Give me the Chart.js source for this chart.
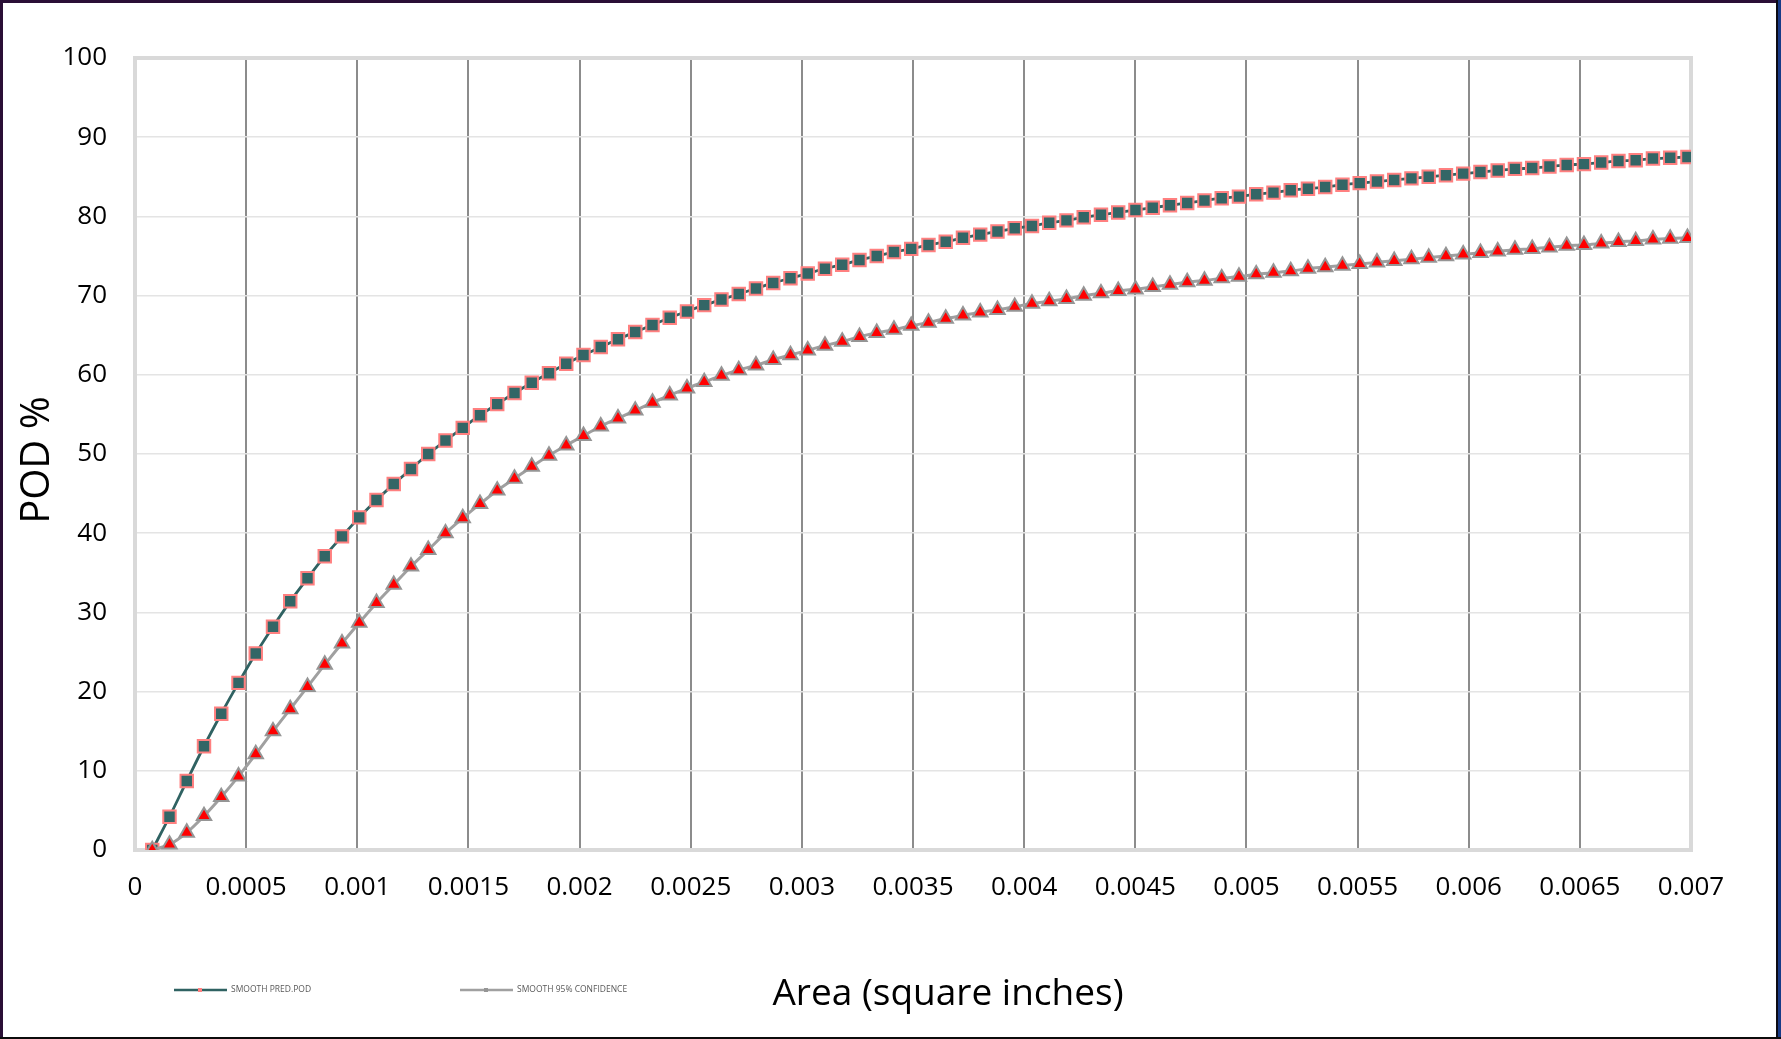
<!DOCTYPE html>
<html>
<head>
<meta charset="utf-8">
<title>POD curve</title>
<script src="https://cdn.jsdelivr.net/npm/chart.js@4.4.1/dist/chart.umd.min.js"></script>
<style>
  html, body { margin: 0; padding: 0; background: #fff; overflow: hidden; }
  #wrap { position: relative; width: 1781px; height: 1039px; }
  #podChart { position: absolute; left: 0; top: 0; }
  .edge { position: absolute; pointer-events: none; }
</style>
</head>
<body>
<div id="wrap">
  <canvas id="podChart" width="1781" height="1039"></canvas>
  <div class="edge" style="left:0;top:0;width:1781px;height:3px;background:#2a0f36;"></div>
  <div class="edge" style="left:0;top:0;width:3px;height:1039px;background:#2a0f36;"></div>
  <div class="edge" style="left:1776px;top:0;width:2px;height:1039px;background:#0b0b14;"></div>
  <div class="edge" style="left:1778px;top:0;width:3px;height:1039px;background:#183a86;"></div>
  <div class="edge" style="left:0;top:1037px;width:1781px;height:2px;background:#0b0b0b;"></div>
</div>
<script>
// Area values (square inches)
const areaX = [
  0.0000776, 0.0001552, 0.0002328, 0.0003104, 0.000388, 0.0004656, 0.0005432, 0.0006208, 0.0006984, 0.000776,
  0.0008536, 0.0009312, 0.0010088, 0.0010864, 0.001164, 0.0012416, 0.0013192, 0.0013968, 0.0014744, 0.001552,
  0.0016296, 0.0017072, 0.0017848, 0.0018624, 0.00194, 0.0020176, 0.0020952, 0.0021728, 0.0022504, 0.002328,
  0.0024056, 0.0024832, 0.0025608, 0.0026384, 0.002716, 0.0027936, 0.0028712, 0.0029488, 0.0030264, 0.003104,
  0.0031816, 0.0032592, 0.0033368, 0.0034144, 0.003492, 0.0035696, 0.0036472, 0.0037248, 0.0038024, 0.00388,
  0.0039576, 0.0040352, 0.0041128, 0.0041904, 0.004268, 0.0043456, 0.0044232, 0.0045008, 0.0045784, 0.004656,
  0.0047336, 0.0048112, 0.0048888, 0.0049664, 0.005044, 0.0051216, 0.0051992, 0.0052768, 0.0053544, 0.005432,
  0.0055096, 0.0055872, 0.0056648, 0.0057424, 0.00582, 0.0058976, 0.0059752, 0.0060528, 0.0061304, 0.006208,
  0.0062856, 0.0063632, 0.0064408, 0.0065184, 0.006596, 0.0066736, 0.0067512, 0.0068288, 0.0069064, 0.006984
];

// SMOOTH PRED.POD (%)
const predPod = [
  0.0, 4.2, 8.7, 13.1, 17.2, 21.1, 24.8, 28.2, 31.4, 34.3,
  37.1, 39.6, 42.0, 44.2, 46.2, 48.1, 50.0, 51.7, 53.3, 54.9,
  56.3, 57.7, 59.0, 60.2, 61.4, 62.5, 63.5, 64.5, 65.4, 66.3,
  67.2, 68.0, 68.8, 69.5, 70.2, 70.9, 71.6, 72.2, 72.8, 73.4,
  73.9, 74.5, 75.0, 75.5, 75.9, 76.4, 76.8, 77.3, 77.7, 78.1,
  78.5, 78.8, 79.2, 79.5, 79.9, 80.2, 80.5, 80.8, 81.1, 81.4,
  81.7, 82.0, 82.3, 82.5, 82.8, 83.0, 83.3, 83.5, 83.7, 84.0,
  84.2, 84.4, 84.6, 84.8, 85.0, 85.2, 85.4, 85.6, 85.8, 86.0,
  86.1, 86.3, 86.5, 86.6, 86.8, 87.0, 87.1, 87.3, 87.4, 87.5
];

// SMOOTH 95% CONFIDENCE (%)
const conf95 = [
  0.0, 0.7, 2.2, 4.3, 6.7, 9.3, 12.1, 15.0, 17.8, 20.6,
  23.4, 26.1, 28.7, 31.2, 33.5, 35.8, 37.9, 40.0, 41.9, 43.7,
  45.4, 46.9, 48.4, 49.8, 51.1, 52.3, 53.5, 54.5, 55.5, 56.5,
  57.4, 58.3, 59.1, 59.9, 60.6, 61.2, 61.9, 62.5, 63.1, 63.7,
  64.2, 64.8, 65.3, 65.7, 66.2, 66.6, 67.1, 67.5, 67.9, 68.2,
  68.6, 69.0, 69.3, 69.6, 70.0, 70.3, 70.6, 70.8, 71.1, 71.4,
  71.7, 71.9, 72.2, 72.4, 72.7, 72.9, 73.1, 73.4, 73.6, 73.8,
  74.0, 74.2, 74.4, 74.6, 74.8, 75.0, 75.2, 75.4, 75.6, 75.8,
  75.9, 76.1, 76.3, 76.4, 76.6, 76.8, 76.9, 77.1, 77.2, 77.3
];

const xTickLabels = ['0','0.0005','0.001','0.0015','0.002','0.0025','0.003','0.0035','0.004','0.0045','0.005','0.0055','0.006','0.0065','0.007'];
const seriesNames = ['SMOOTH PRED.POD', 'SMOOTH 95% CONFIDENCE'];
const xTitle = 'Area (square inches)';
const yTitle = 'POD %';

const FONT = "'Open Sans', 'Noto Sans', sans-serif";

// plot frame (light gray box round the plot area)
const plotFrame = {
  id: 'plotFrame',
  beforeDatasetsDraw(chart){
    const {ctx, chartArea:a} = chart;
    ctx.save();
    ctx.strokeStyle = '#d9d9d9';
    ctx.lineWidth = 4;
    ctx.strokeRect(a.left, a.top, a.right - a.left, a.bottom - a.top);
    ctx.restore();
  }
};

// legend, axis titles
const extraText = {
  id: 'extraText',
  afterDraw(chart){
    const ctx = chart.ctx;
    const ds = chart.data.datasets;
    const rowY = 990;
    const items = [{x:174, ds:ds[0]}, {x:460, ds:ds[1]}];
    ctx.save();
    items.forEach(it=>{
      ctx.strokeStyle = it.ds.borderColor;
      ctx.lineWidth = 2.5;
      ctx.beginPath();
      ctx.moveTo(it.x, rowY);
      ctx.lineTo(it.x + 53, rowY);
      ctx.stroke();
      ctx.fillStyle = it.ds.pointBorderColor;
      ctx.fillRect(it.x + 24, rowY - 2, 4, 4);
      ctx.fillStyle = '#595959';
      ctx.font = '8.5px ' + FONT;
      ctx.textAlign = 'left';
      ctx.textBaseline = 'middle';
      ctx.fillText(it.ds.label, it.x + 57, rowY);
    });
    ctx.fillStyle = '#000';
    ctx.font = '37px ' + FONT;
    ctx.textAlign = 'center';
    ctx.textBaseline = 'middle';
    ctx.fillText(xTitle, 948, 994);

    ctx.translate(38, 460);
    ctx.rotate(-Math.PI / 2);
    ctx.font = '40px ' + FONT;
    ctx.fillText(yTitle, 0, 0);
    ctx.restore();
  }
};

const ctx = document.getElementById('podChart').getContext('2d');

new Chart(ctx, {
  type: 'line',
  data: {
    datasets: [
      {
        label: seriesNames[0],
        data: areaX.map((x,i)=>({x:x, y:predPod[i]})),
        borderColor: '#2f6262',
        borderWidth: 2.8,
        pointStyle: 'rect',
        pointRadius: 8.8,
        pointBackgroundColor: '#336666',
        pointBorderColor: '#ff8080',
        pointBorderWidth: 2,
        cubicInterpolationMode: 'monotone',
        order: 1
      },
      {
        label: seriesNames[1],
        data: areaX.map((x,i)=>({x:x, y:conf95[i]})),
        borderColor: '#a0a0a0',
        borderWidth: 3,
        pointStyle: 'triangle',
        pointRadius: 8.3,
        pointBackgroundColor: '#ff0000',
        pointBorderColor: '#959595',
        pointBorderWidth: 2,
        cubicInterpolationMode: 'monotone',
        order: 0
      }
    ]
  },
  options: {
    responsive: false,
    animation: false,
    devicePixelRatio: 1,
    layout: { padding: { top: 58, right: 90, bottom: 0, left: 0 } },
    plugins: {
      legend: { display: false },
      tooltip: { enabled: false },
      title: { display: false }
    },
    scales: {
      x: {
        type: 'linear',
        min: 0,
        max: 0.007,
        afterFit: s => { s.height = 189; },
        ticks: {
          stepSize: 0.0005,
          padding: 22,
          autoSkip: false,
          maxRotation: 0,
          color: '#000',
          font: { family: FONT, size: 26 },
          callback: (v, i) => xTickLabels[i]
        },
        grid: {
          drawTicks: false,
          lineWidth: 2,
          color: c => (c.index === 0 || c.index === xTickLabels.length - 1) ? 'rgba(0,0,0,0)' : '#8c8c8c'
        },
        border: { display: false }
      },
      y: {
        min: 0,
        max: 100,
        afterFit: s => { s.width = 135; },
        ticks: {
          stepSize: 10,
          padding: 28,
          color: '#000',
          font: { family: FONT, size: 26 }
        },
        grid: {
          drawTicks: false,
          lineWidth: 1.5,
          color: c => (c.index === 0 || c.index === 10) ? 'rgba(0,0,0,0)' : '#e4e4e4'
        },
        border: { display: false }
      }
    }
  },
  plugins: [plotFrame, extraText]
});
</script>
</body>
</html>
